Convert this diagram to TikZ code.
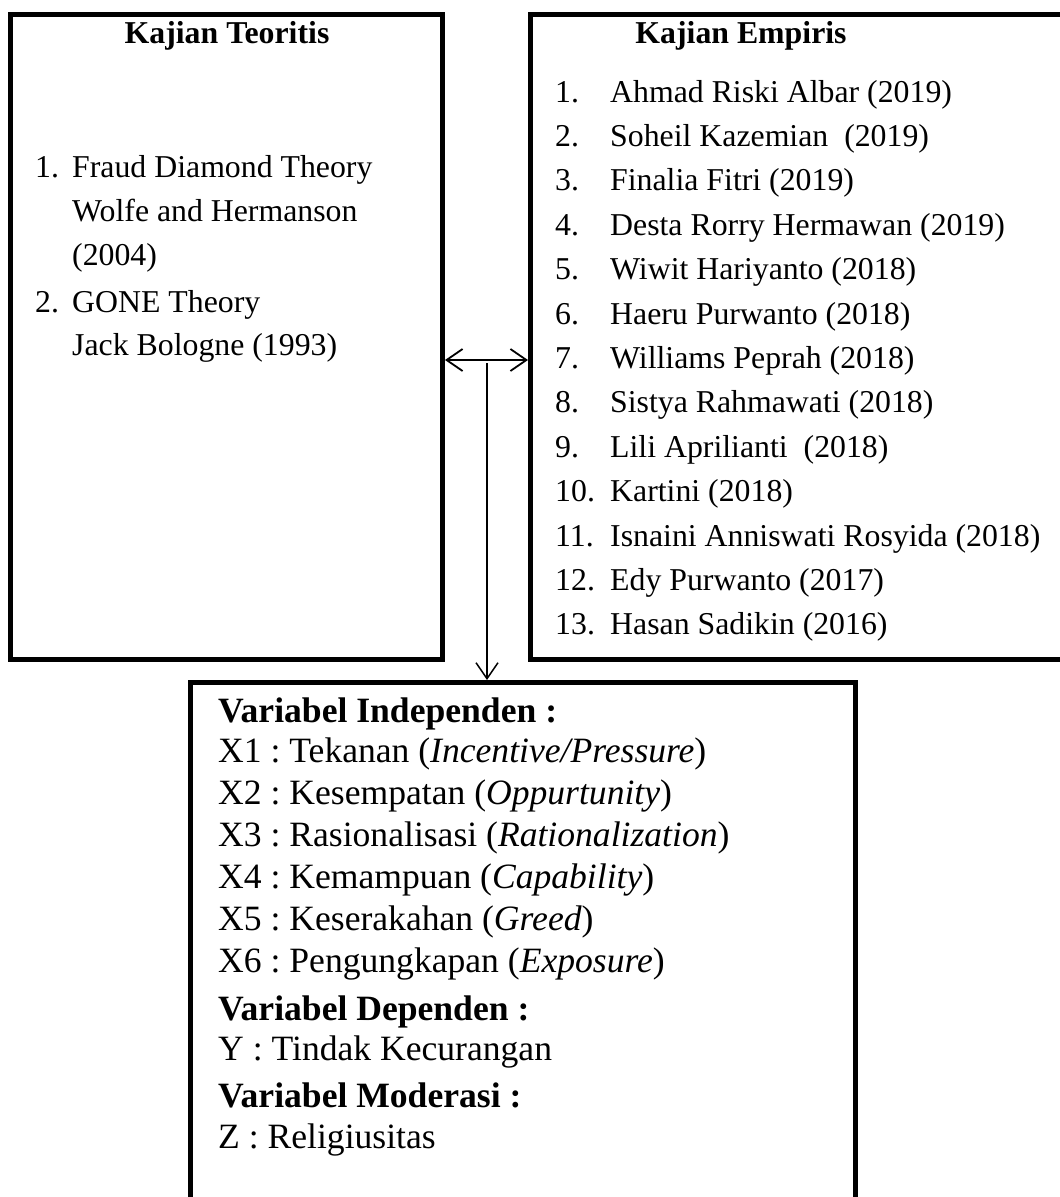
\documentclass[tikz,border=0pt]{standalone}
\usepackage{fontspec}
\setmainfont{Liberation Serif}
\frenchspacing
\usetikzlibrary{arrows.meta}
\begin{document}
\frenchspacing
\begin{tikzpicture}[x=1pt,y=-1pt,
  box/.style={draw, line width=5pt, inner sep=0pt, outer sep=2.5pt},
  txt/.style={anchor=base west, inner sep=0pt, font=\fontsize{31.8}{38}\selectfont\frenchspacing},
  btxt/.style={anchor=base west, inner sep=0pt, font=\fontsize{35.6}{42}\selectfont\frenchspacing},
  ttl/.style={anchor=base, inner sep=0pt, font=\fontsize{31.8}{38}\selectfont\bfseries\frenchspacing},
  hd/.style={anchor=base west, inner sep=0pt, font=\fontsize{35.6}{42}\selectfont\bfseries\frenchspacing},
  conn/.style={line width=1.8pt, {Straight Barb[length=16pt,width=22pt]}-{Straight Barb[length=16pt,width=22pt]}},
  conn1/.style={line width=1.5pt, -{Straight Barb[length=16pt,width=22pt]}}]
\useasboundingbox (0,0) rectangle (1060,1197);
\clip (0,0) rectangle (1060,1197);
\fill[white] (0,0) rectangle (1060,1197);
% boxes
\node[box, minimum width=432pt, minimum height=645pt] (L) at (226.5,337) {};
\node[box, minimum width=560pt, minimum height=645.5pt] (R) at (810.5,336.75) {};
\node[box, minimum width=665.5pt, minimum height=547.5pt] (B) at (522.75,956.25) {};
% left box
\node[ttl] (lt) at (227,43) {Kajian Teoritis};
\node[txt] (l1n) at (35,177) {1.};
\node[txt] (l1a) at (72,177) {Fraud Diamond Theory};
\node[txt] (l1b) at (72,221) {Wolfe and Hermanson};
\node[txt] (l1c) at (72,265) {(2004)};
\node[txt] (l2n) at (35,312) {2.};
\node[txt] (l2a) at (72,312) {GONE Theory};
\node[txt] (l2b) at (72,355) {Jack Bologne (1993)};
% right box
\node[ttl] (rt) at (741,43) {Kajian Empiris};
\foreach \i/\t [count=\k] in {1/{Ahmad Riski Albar (2019)},
  2/{Soheil Kazemian\ \ (2019)},
  3/{Finalia Fitri (2019)},
  4/{Desta Rorry Hermawan (2019)},
  5/{Wiwit Hariyanto (2018)},
  6/{Haeru Purwanto (2018)},
  7/{Williams Peprah (2018)},
  8/{Sistya Rahmawati (2018)},
  9/{Lili Aprilianti\ \ (2018)},
  10/{Kartini (2018)},
  11/{Isnaini Anniswati Rosyida (2018)},
  12/{Edy Purwanto (2017)},
  13/{Hasan Sadikin (2016)}}{
  \node[txt] (rn\i) at (555,{102+44.4*(\k-1)}) {\i.};
  \node[txt] (ri\i) at (610,{102+44.4*(\k-1)}) {\t};
}
% bottom box
\node[hd] (bh1) at (218,722) {Variabel Independen :};
\node[btxt] (bx1) at (218,762) {X1 : Tekanan (\textit{Incentive/Pressure})};
\node[btxt] (bx2) at (218,804) {X2 : Kesempatan (\textit{Oppurtunity})};
\node[btxt] (bx3) at (218,846) {X3 : Rasionalisasi (\textit{Rationalization})};
\node[btxt] (bx4) at (218,888) {X4 : Kemampuan (\textit{Capability})};
\node[btxt] (bx5) at (218,930) {X5 : Keserakahan (\textit{Greed})};
\node[btxt] (bx6) at (218,972) {X6 : Pengungkapan (\textit{Exposure})};
\node[hd] (bh2) at (218,1020) {Variabel Dependen :};
\node[btxt] (by) at (218,1060) {Y : Tindak Kecurangan};
\node[hd] (bh3) at (218,1107) {Variabel Moderasi :};
\node[btxt] (bz) at (218,1148) {Z : Religiusitas};
% connectors
\coordinate (ay) at (0,360);
\draw[conn] (L.east |- ay) -- (R.west |- ay);
\coordinate (vt) at (487,363);
\draw[conn1] (vt) -- (vt |- B.north);
\end{tikzpicture}
\end{document}
